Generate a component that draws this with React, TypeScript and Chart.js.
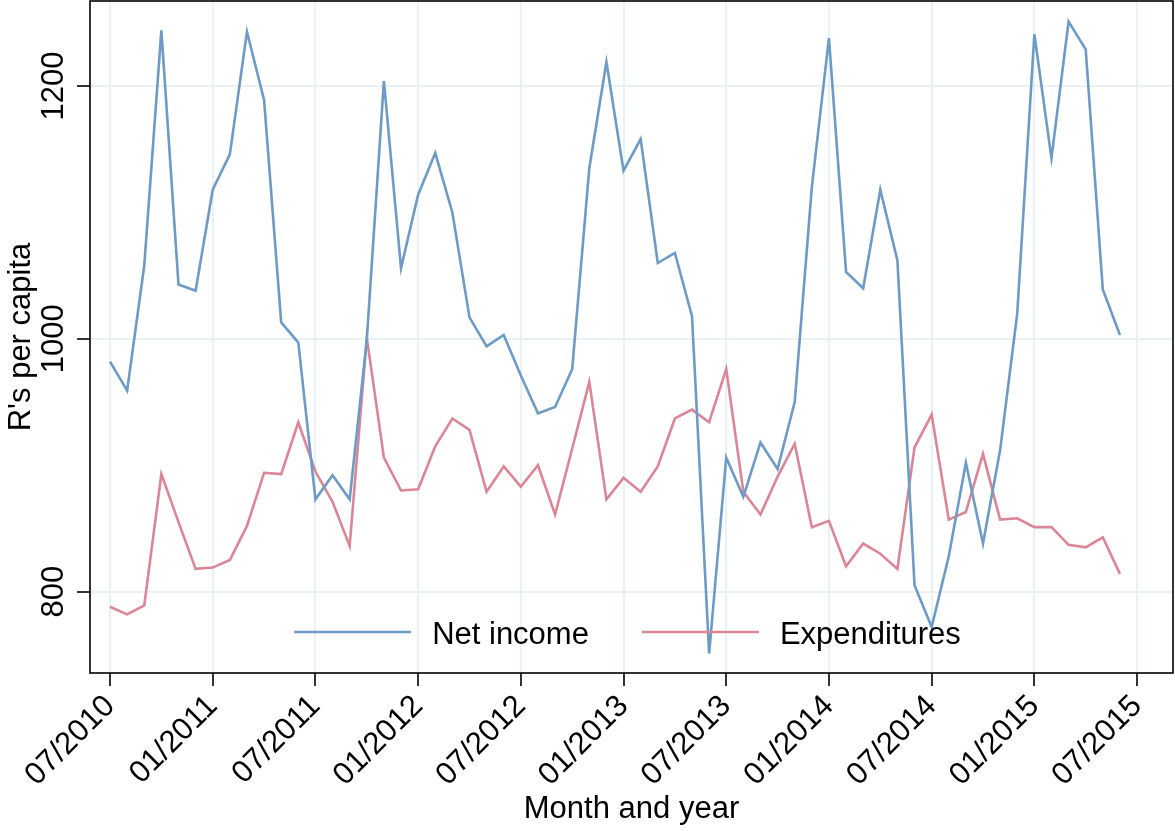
import React, { useEffect, useRef } from "react";
import { Chart, registerables } from "chart.js";

Chart.register(...registerables);

// Monthly observations, July 2010 through June 2015 (x = month index from 07/2010)
const startYear = 2010;
const startMonth = 7;
const months: string[] = Array.from({ length: 60 }, (_, i) => {
  const m = ((startMonth - 1 + i) % 12) + 1;
  const y = startYear + Math.floor((startMonth - 1 + i) / 12);
  return `${String(m).padStart(2, "0")}/${y}`;
});

const netIncome = [
  982, 959, 1058, 1244, 1043, 1038, 1118, 1146, 1243, 1189, 1013, 997,
  873, 892, 873, 999, 1204, 1056, 1114, 1147, 1100, 1017, 994, 1003,
  971, 941, 946, 976, 1135, 1219, 1133, 1158, 1060, 1068, 1018, 751,
  906, 875, 918, 897, 950, 1120, 1238, 1053, 1040, 1118, 1062, 805,
  772, 828, 902, 838, 912, 1020, 1241, 1143, 1251, 1229, 1039, 1003,
];

const expenditures = [
  788, 782, 789, 893, 855, 818, 819, 825, 852, 894, 893, 934,
  895, 871, 836, 1001, 906, 880, 881, 915, 937, 928, 879, 899,
  883, 900, 861, 913, 966, 873, 890, 879, 899, 937, 944, 934,
  976, 879, 861, 891, 917, 851, 856, 820, 838, 830, 818, 914,
  940, 857, 863, 909, 857, 858, 851, 851, 837, 835, 843, 814,
];

const xTickLabels = [
  "07/2010", "01/2011", "07/2011", "01/2012", "07/2012", "01/2013",
  "07/2013", "01/2014", "07/2014", "01/2015", "07/2015",
];
const xTickStep = 6; // months between labelled ticks
const yTickValues = [800, 1000, 1200];

const seriesNames = ["Net income", "Expenditures"];
const BLUE = "rgb(109,155,197)";
const RED = "rgb(218,134,150)";
const GRID = "rgb(232,241,243)";
const FONT_FAMILY = "'Liberation Sans', Arial, Helvetica, sans-serif";
const FONT_SIZE = 31;

const framePlugin = {
  id: "frameAndLabels",
  afterDatasetsDraw(chart: any) {
    const { ctx, chartArea } = chart;
    const yScale = chart.scales.y;
    ctx.save();
    // full box around the plot region
    ctx.strokeStyle = "#000";
    ctx.lineWidth = 1.6;
    ctx.strokeRect(chartArea.left, chartArea.top, chartArea.right - chartArea.left, chartArea.bottom - chartArea.top);

    // vertical y tick labels
    ctx.fillStyle = "#000";
    ctx.font = `${FONT_SIZE}px ${FONT_FAMILY}`;
    ctx.textAlign = "center";
    ctx.textBaseline = "alphabetic";
    for (const v of yTickValues) {
      const py = yScale.getPixelForValue(v);
      ctx.save();
      ctx.translate(chartArea.left - 27, py);
      ctx.rotate(-Math.PI / 2);
      ctx.fillText(String(v), 0, 0);
      ctx.restore();
    }

    // legend inside the plot, along the bottom
    const colors = [BLUE, RED];
    const lineLen = 117;
    const gapText = 21;
    const gapItem = 53;
    ctx.font = `${FONT_SIZE}px ${FONT_FAMILY}`;
    ctx.textAlign = "left";
    const widths = seriesNames.map((n) => ctx.measureText(n).width);
    const total = widths.reduce((a, w) => a + lineLen + gapText + w, 0) + gapItem;
    let x = (chartArea.left + chartArea.right) / 2 - 4 - total / 2;
    const ly = chartArea.bottom - 41;
    seriesNames.forEach((name, i) => {
      ctx.strokeStyle = colors[i];
      ctx.lineWidth = 2.6;
      ctx.beginPath();
      ctx.moveTo(x, ly);
      ctx.lineTo(x + lineLen, ly);
      ctx.stroke();
      x += lineLen + gapText;
      ctx.fillText(name, x, ly + 12);
      x += widths[i] + gapItem;
    });
    ctx.restore();
  },
};

export default function App() {
  const canvasRef = useRef<HTMLCanvasElement | null>(null);

  useEffect(() => {
    const canvas = canvasRef.current;
    if (!canvas) return;
    const chart = new Chart(canvas, {
      type: "line",
      data: {
        datasets: [
          {
            label: seriesNames[0],
            data: netIncome.map((v, i) => ({ x: i, y: v })),
            borderColor: BLUE,
            borderWidth: 2.6,
            pointRadius: 0,
            tension: 0,
          },
          {
            label: seriesNames[1],
            data: expenditures.map((v, i) => ({ x: i, y: v })),
            borderColor: RED,
            borderWidth: 2.6,
            pointRadius: 0,
            tension: 0,
          },
        ],
      },
      options: {
        animation: false,
        responsive: false,
        devicePixelRatio: 1,
        layout: { padding: { top: 1, right: 2, left: 0, bottom: 0 } },
        plugins: {
          legend: { display: false },
          tooltip: { enabled: false },
        },
        scales: {
          x: {
            type: "linear",
            min: -1.17,
            max: 62.1,
            afterBuildTicks: (scale: any) => {
              scale.ticks = xTickLabels.map((_, k) => ({ value: k * xTickStep }));
            },
            afterFit: (scale: any) => {
              scale.height = 158;
            },
            ticks: {
              autoSkip: false,
              minRotation: 45,
              maxRotation: 45,
              padding: 2,
              color: "#000",
              font: { family: FONT_FAMILY, size: FONT_SIZE },
              callback: (value: any) => xTickLabels[Math.round(Number(value) / xTickStep)] ?? "",
            },
            grid: {
              color: GRID,
              lineWidth: 2,
              tickColor: "#000",
              tickWidth: 1.6,
              tickLength: 13,
            },
            border: { display: false },
            title: {
              display: true,
              text: "Month and year",
              color: "#000",
              font: { family: FONT_FAMILY, size: FONT_SIZE },
              padding: { top: 0, bottom: 3 },
            },
          },
          y: {
            type: "linear",
            min: 735.6,
            max: 1267.3,
            afterBuildTicks: (scale: any) => {
              scale.ticks = yTickValues.map((v) => ({ value: v }));
            },
            afterFit: (scale: any) => {
              scale.width = 90;
            },
            ticks: { display: false },
            grid: {
              color: GRID,
              lineWidth: 2,
              tickColor: "#000",
              tickWidth: 1.6,
              tickLength: 13,
            },
            border: { display: false },
            title: {
              display: true,
              text: "R's per capita",
              color: "#000",
              font: { family: FONT_FAMILY, size: FONT_SIZE },
              padding: { top: 3, bottom: 0 },
            },
          },
        },
      },
      plugins: [framePlugin],
    });
    return () => chart.destroy();
  }, []);

  return (
    <div style={{ position: "absolute", left: 0, top: 0, width: 1175, height: 831, background: "#fff" }}>
      <canvas ref={canvasRef} width={1175} height={831} style={{ display: "block" }} />
    </div>
  );
}
